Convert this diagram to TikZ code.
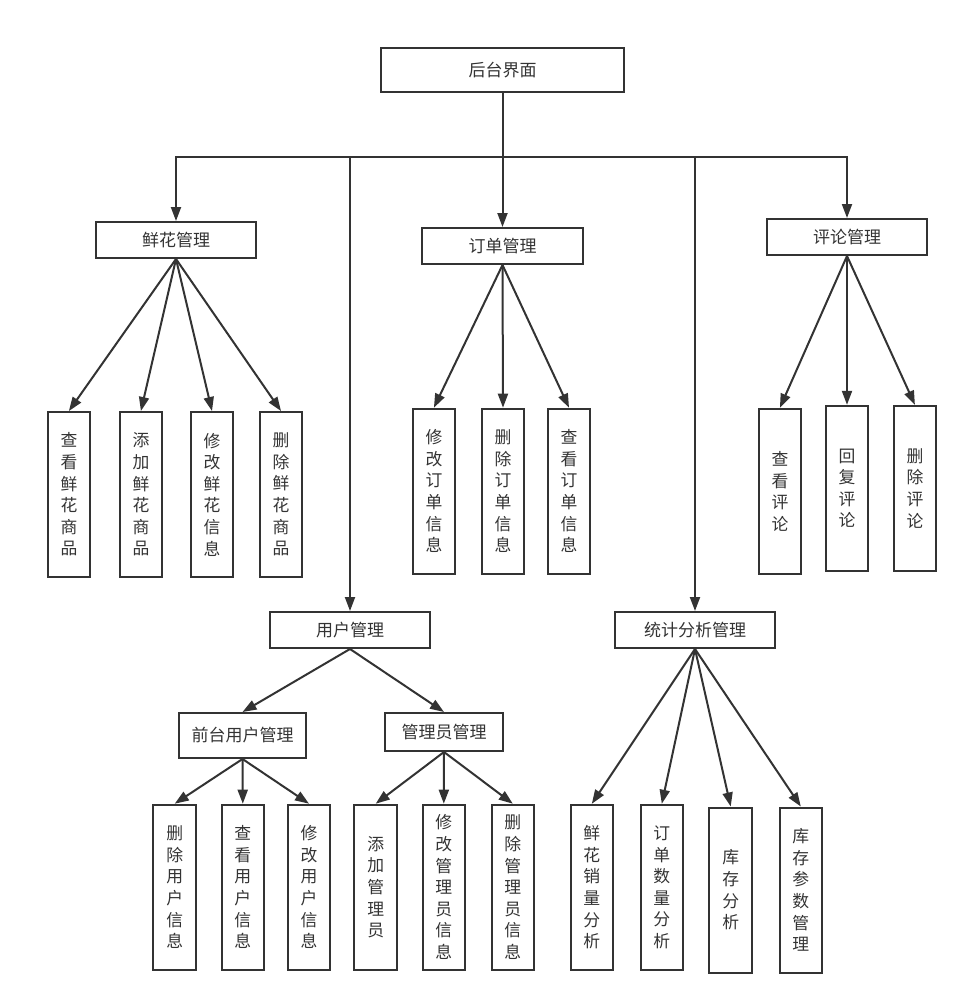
\documentclass[tikz,border=0pt]{standalone}
\usepackage{fontspec}
\newfontfamily\cjk{Noto Sans CJK SC}
\usetikzlibrary{arrows.meta}
\definecolor{ln}{HTML}{333333}
\begin{document}
\begin{tikzpicture}[x=1pt,y=-1pt,
  box/.style={draw=ln, line width=2pt, inner sep=0pt, text=ln, font=\cjk\fontsize{17}{20}\selectfont},
  hbox/.style={box, minimum height=36pt},
  leaf/.style={box, minimum width=42.5pt, minimum height=165pt, align=center, font=\cjk\fontsize{16.8}{21.6}\selectfont},
  conn/.style={draw=ln, line width=2pt},
  arr/.style={conn, -{Triangle[length=14pt,width=10pt]}}]
\useasboundingbox (0,0) rectangle (967,1004);

% level 0
\node[box, minimum width=243pt, minimum height=44pt] (root) at (502.5,70) {后台界面};

% level 1
\node[hbox, minimum width=160pt] (xh) at (176,240) {鲜花管理};
\node[hbox, minimum width=161pt] (dd) at (502.5,246) {订单管理};
\node[hbox, minimum width=160pt] (pl) at (847,237) {评论管理};
\node[hbox, minimum width=160pt] (yh) at (350,630) {用户管理};
\node[hbox, minimum width=160pt] (tj) at (695,630) {统计分析管理};

% level 2 (user)
\node[box, minimum width=127pt, minimum height=45pt] (qt) at (242.5,735.5) {前台用户管理};
\node[box, minimum width=118pt, minimum height=38pt] (gl) at (444,732) {管理员管理};

% leaves: flowers
\node[leaf] (a1) at (68.9,494.5) {查\\看\\鲜\\花\\商\\品};
\node[leaf] (a2) at (140.9,494.5) {添\\加\\鲜\\花\\商\\品};
\node[leaf] (a3) at (212,494.5) {修\\改\\鲜\\花\\信\\息};
\node[leaf] (a4) at (281,494.5) {删\\除\\鲜\\花\\商\\品};
% leaves: orders
\node[leaf] (b1) at (433.9,491.2) {修\\改\\订\\单\\信\\息};
\node[leaf] (b2) at (503,491.2) {删\\除\\订\\单\\信\\息};
\node[leaf] (b3) at (569,491.2) {查\\看\\订\\单\\信\\息};
% leaves: comments
\node[leaf] (c1) at (779.9,491.3) {查\\看\\评\\论};
\node[leaf] (c2) at (847,488.3) {回\\复\\评\\论};
\node[leaf] (c3) at (914.9,488.3) {删\\除\\评\\论};
% leaves: front users
\node[leaf] (d1) at (174.7,887.2) {删\\除\\用\\户\\信\\息};
\node[leaf] (d2) at (242.8,887.2) {查\\看\\用\\户\\信\\息};
\node[leaf] (d3) at (309,887.2) {修\\改\\用\\户\\信\\息};
% leaves: admins
\node[leaf] (e1) at (375.7,887.2) {添\\加\\管\\理\\员};
\node[leaf] (e2) at (443.8,887.2) {修\\改\\管\\理\\员\\信\\息};
\node[leaf] (e3) at (512.8,887.2) {删\\除\\管\\理\\员\\信\\息};
% leaves: statistics
\node[leaf] (f1) at (591.8,887.3) {鲜\\花\\销\\量\\分\\析};
\node[leaf] (f2) at (661.8,887.3) {订\\单\\数\\量\\分\\析};
\node[leaf] (f3) at (730.7,890) {库\\存\\分\\析};
\node[leaf] (f4) at (800.8,890) {库\\存\\参\\数\\管\\理};

% bus from root
\coordinate (bus) at (502.5,157);
\draw[conn] (root.south) -- (bus);
\draw[arr] (bus) -| (xh.north);
\draw[arr] (bus) -| (yh.north);
\draw[arr] (bus) -- (dd.north);
\draw[arr] (bus) -| (tj.north);
\draw[arr] (bus) -| (pl.north);

% fans
\foreach \c in {a1,a2,a3,a4} \draw[arr] (xh.south) -- (\c.north);
\foreach \c in {b1,b2,b3} \draw[arr] (dd.south) -- (\c.north);
\foreach \c in {c1,c2,c3} \draw[arr] (pl.south) -- (\c.north);
\draw[arr] (yh.south) -- (qt.north);
\draw[arr] (yh.south) -- (gl.north);
\foreach \c in {d1,d2,d3} \draw[arr] (qt.south) -- (\c.north);
\foreach \c in {e1,e2,e3} \draw[arr] (gl.south) -- (\c.north);
\foreach \c in {f1,f2,f3,f4} \draw[arr] (tj.south) -- (\c.north);
\end{tikzpicture}
\end{document}
